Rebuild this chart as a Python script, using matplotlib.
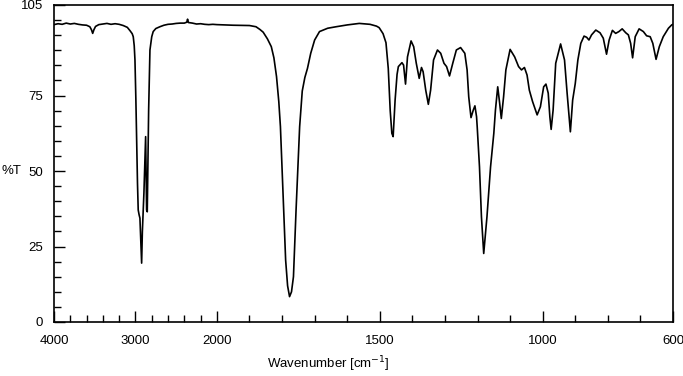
import numpy as np
import matplotlib
matplotlib.use('Agg')
import matplotlib.pyplot as plt

plt.rcParams['font.family'] = ['Liberation Sans', 'DejaVu Sans']

# ---------------------------------------------------------------------------
# spectrum (wavenumber in cm-1, transmittance in %)
wavenumber = [4000, 3950, 3900, 3850, 3800, 3750, 3700, 3650, 3600, 3560,
              3540, 3525, 3510, 3490, 3450, 3400, 3350, 3300, 3250, 3200,
              3150, 3100, 3067, 3040, 3027, 3015, 3006, 2995, 2985, 2975,
              2966, 2955, 2945, 2935, 2924, 2915, 2896, 2875, 2863, 2855,
              2838, 2822, 2800, 2782, 2750, 2700, 2650, 2600, 2550, 2500,
              2450, 2400, 2370, 2360, 2350, 2300, 2250, 2200, 2150, 2100,
              2050, 2000, 1950, 1900, 1880, 1868, 1858, 1845, 1833, 1825,
              1817, 1810, 1805, 1797, 1789, 1783, 1777, 1771, 1765, 1757,
              1746, 1738, 1730, 1722, 1712, 1700, 1685, 1660, 1634, 1600, 1563,
              1530, 1510, 1502, 1490, 1481, 1474, 1468, 1463, 1459, 1453,
              1447, 1443, 1432, 1427, 1421, 1415, 1404, 1396, 1388, 1379,
              1372, 1367, 1359, 1351, 1344, 1335, 1323, 1313, 1303, 1295,
              1286, 1276, 1265, 1252, 1239, 1232, 1227, 1220, 1213, 1208,
              1203, 1201, 1194, 1188, 1181, 1171, 1160, 1155, 1150, 1145,
              1138, 1132, 1127, 1120, 1113, 1100, 1086, 1074, 1065, 1056,
              1048, 1041, 1031, 1017, 1007, 997, 990, 983, 978, 974,
              968, 960, 945, 933, 925, 915, 908, 900, 892, 883,
              873, 865, 858, 850, 837, 824, 814, 804, 796, 786,
              776, 766, 756, 745, 737, 730, 724, 716, 704, 691,
              681, 670, 662, 652, 642, 630, 614, 604, 600]
transmittance = [98.5, 98.8, 98.6, 99.0, 98.7, 98.9, 98.6, 98.4, 98.3, 97.8,
                 96.8, 95.6, 96.8, 97.9, 98.5, 98.7, 98.9, 98.6, 98.8, 98.6,
                 98.2, 97.6, 96.5, 95.5, 94.5, 91.5, 86.8, 74.0, 59.3, 46.0,
                 37.1, 35.5, 34.4, 27.0, 19.5, 30.0, 42.7, 61.4, 37.1, 36.5,
                 70.2, 90.1, 94.5, 96.2, 97.2, 97.8, 98.3, 98.6, 98.7, 98.9,
                 99.0, 99.0, 99.3, 100.3, 99.2, 99.0, 98.7, 98.8, 98.6, 98.5,
                 98.6, 98.5, 98.3, 98.2, 97.8, 96.9, 96.0, 93.8, 91.2, 87.5,
                 81.3, 73.0, 64.7, 42.6, 20.5, 12.0, 8.4, 10.0, 15.0, 37.1,
                 64.7, 76.5, 81.0, 84.0, 89.0, 93.4, 96.2, 97.3, 97.8, 98.4, 98.9,
                 98.6, 98.0, 97.5, 95.5, 92.5, 84.0, 70.0, 62.5, 61.4, 73.5,
                 82.0, 84.6, 85.9, 85.1, 78.8, 87.8, 93.1, 91.2, 85.7, 80.7,
                 84.3, 82.9, 76.8, 72.1, 76.8, 86.8, 90.1, 89.0, 85.7, 84.6,
                 81.5, 85.7, 90.1, 90.9, 89.0, 83.5, 74.6, 67.7, 70.2, 71.6,
                 68.0, 64.7, 51.4, 34.9, 22.7, 34.9, 51.4, 57.0, 62.5, 70.2,
                 77.9, 72.4, 67.4, 74.6, 83.5, 90.3, 87.8, 84.6, 83.5, 84.3,
                 81.8, 76.8, 73.0, 68.6, 71.3, 77.9, 78.8, 75.8, 68.0, 63.8,
                 70.2, 85.7, 92.1, 86.8, 75.8, 63.0, 73.5, 79.0, 86.8, 92.3,
                 94.7, 94.3, 93.4, 95.1, 96.7, 95.8, 94.0, 88.7, 93.4, 96.6,
                 95.6, 96.2, 97.1, 95.8, 95.1, 92.3, 87.5, 94.5, 97.1, 96.2,
                 94.8, 94.5, 92.3, 87.0, 91.2, 94.5, 97.3, 98.4, 98.6]

x_major = [4000, 3000, 2000, 1500, 1000, 600]
x_minor = [3800, 3600, 3400, 3200, 2800, 2600, 2400, 2200,
           1900, 1800, 1700, 1600, 1400, 1300, 1200, 1100, 900, 800, 700]
y_major = [0, 25, 50, 75, 105]
y_minor = list(range(5, 105, 5))


# axis above 2000 cm-1 is compressed four times
def fwd(x):
    x = np.asarray(x, dtype=float)
    return np.where(x > 2000, 2000 + (x - 2000) / 4.0, x)


def inv(y):
    y = np.asarray(y, dtype=float)
    return np.where(y > 2000, 2000 + (y - 2000) * 4.0, y)


#----------------------------------------------------------------------------
fig = plt.figure(figsize=(6.83, 3.76), dpi=100)
ax = fig.add_axes([54/683, 54/376, 619/683, 317/376])

ax.plot(wavenumber, transmittance, color='black', lw=1.2)

ax.set_xscale('function', functions=(fwd, inv))
ax.set_xlim(4000, 600)
ax.set_ylim(0, 105)

ax.set_xticks(x_major)
ax.set_xticklabels([str(v) for v in x_major])
ax.set_xticks(x_minor, minor=True)
ax.set_yticks(y_major)
ax.set_yticklabels([str(v) for v in y_major])
ax.set_yticks(y_minor, minor=True)

ax.tick_params(which='both', direction='in', width=1.0, labelsize=9.5,
               top=False, right=False)
ax.tick_params(which='major', length=8, pad=8)
ax.tick_params(axis='x', which='major', pad=9)
ax.tick_params(which='minor', length=5)
for sp in ax.spines.values():
    sp.set_linewidth(1.2)

fig.text(2/683, 1 - 171/376, '%T', fontsize=9.5, va='center', ha='left')
fig.text(328/683, 1 - 364/376, 'Wavenumber [cm$^{-1}$]', fontsize=9.5,
         va='center', ha='center')

fig.savefig('out.png', dpi=100)
